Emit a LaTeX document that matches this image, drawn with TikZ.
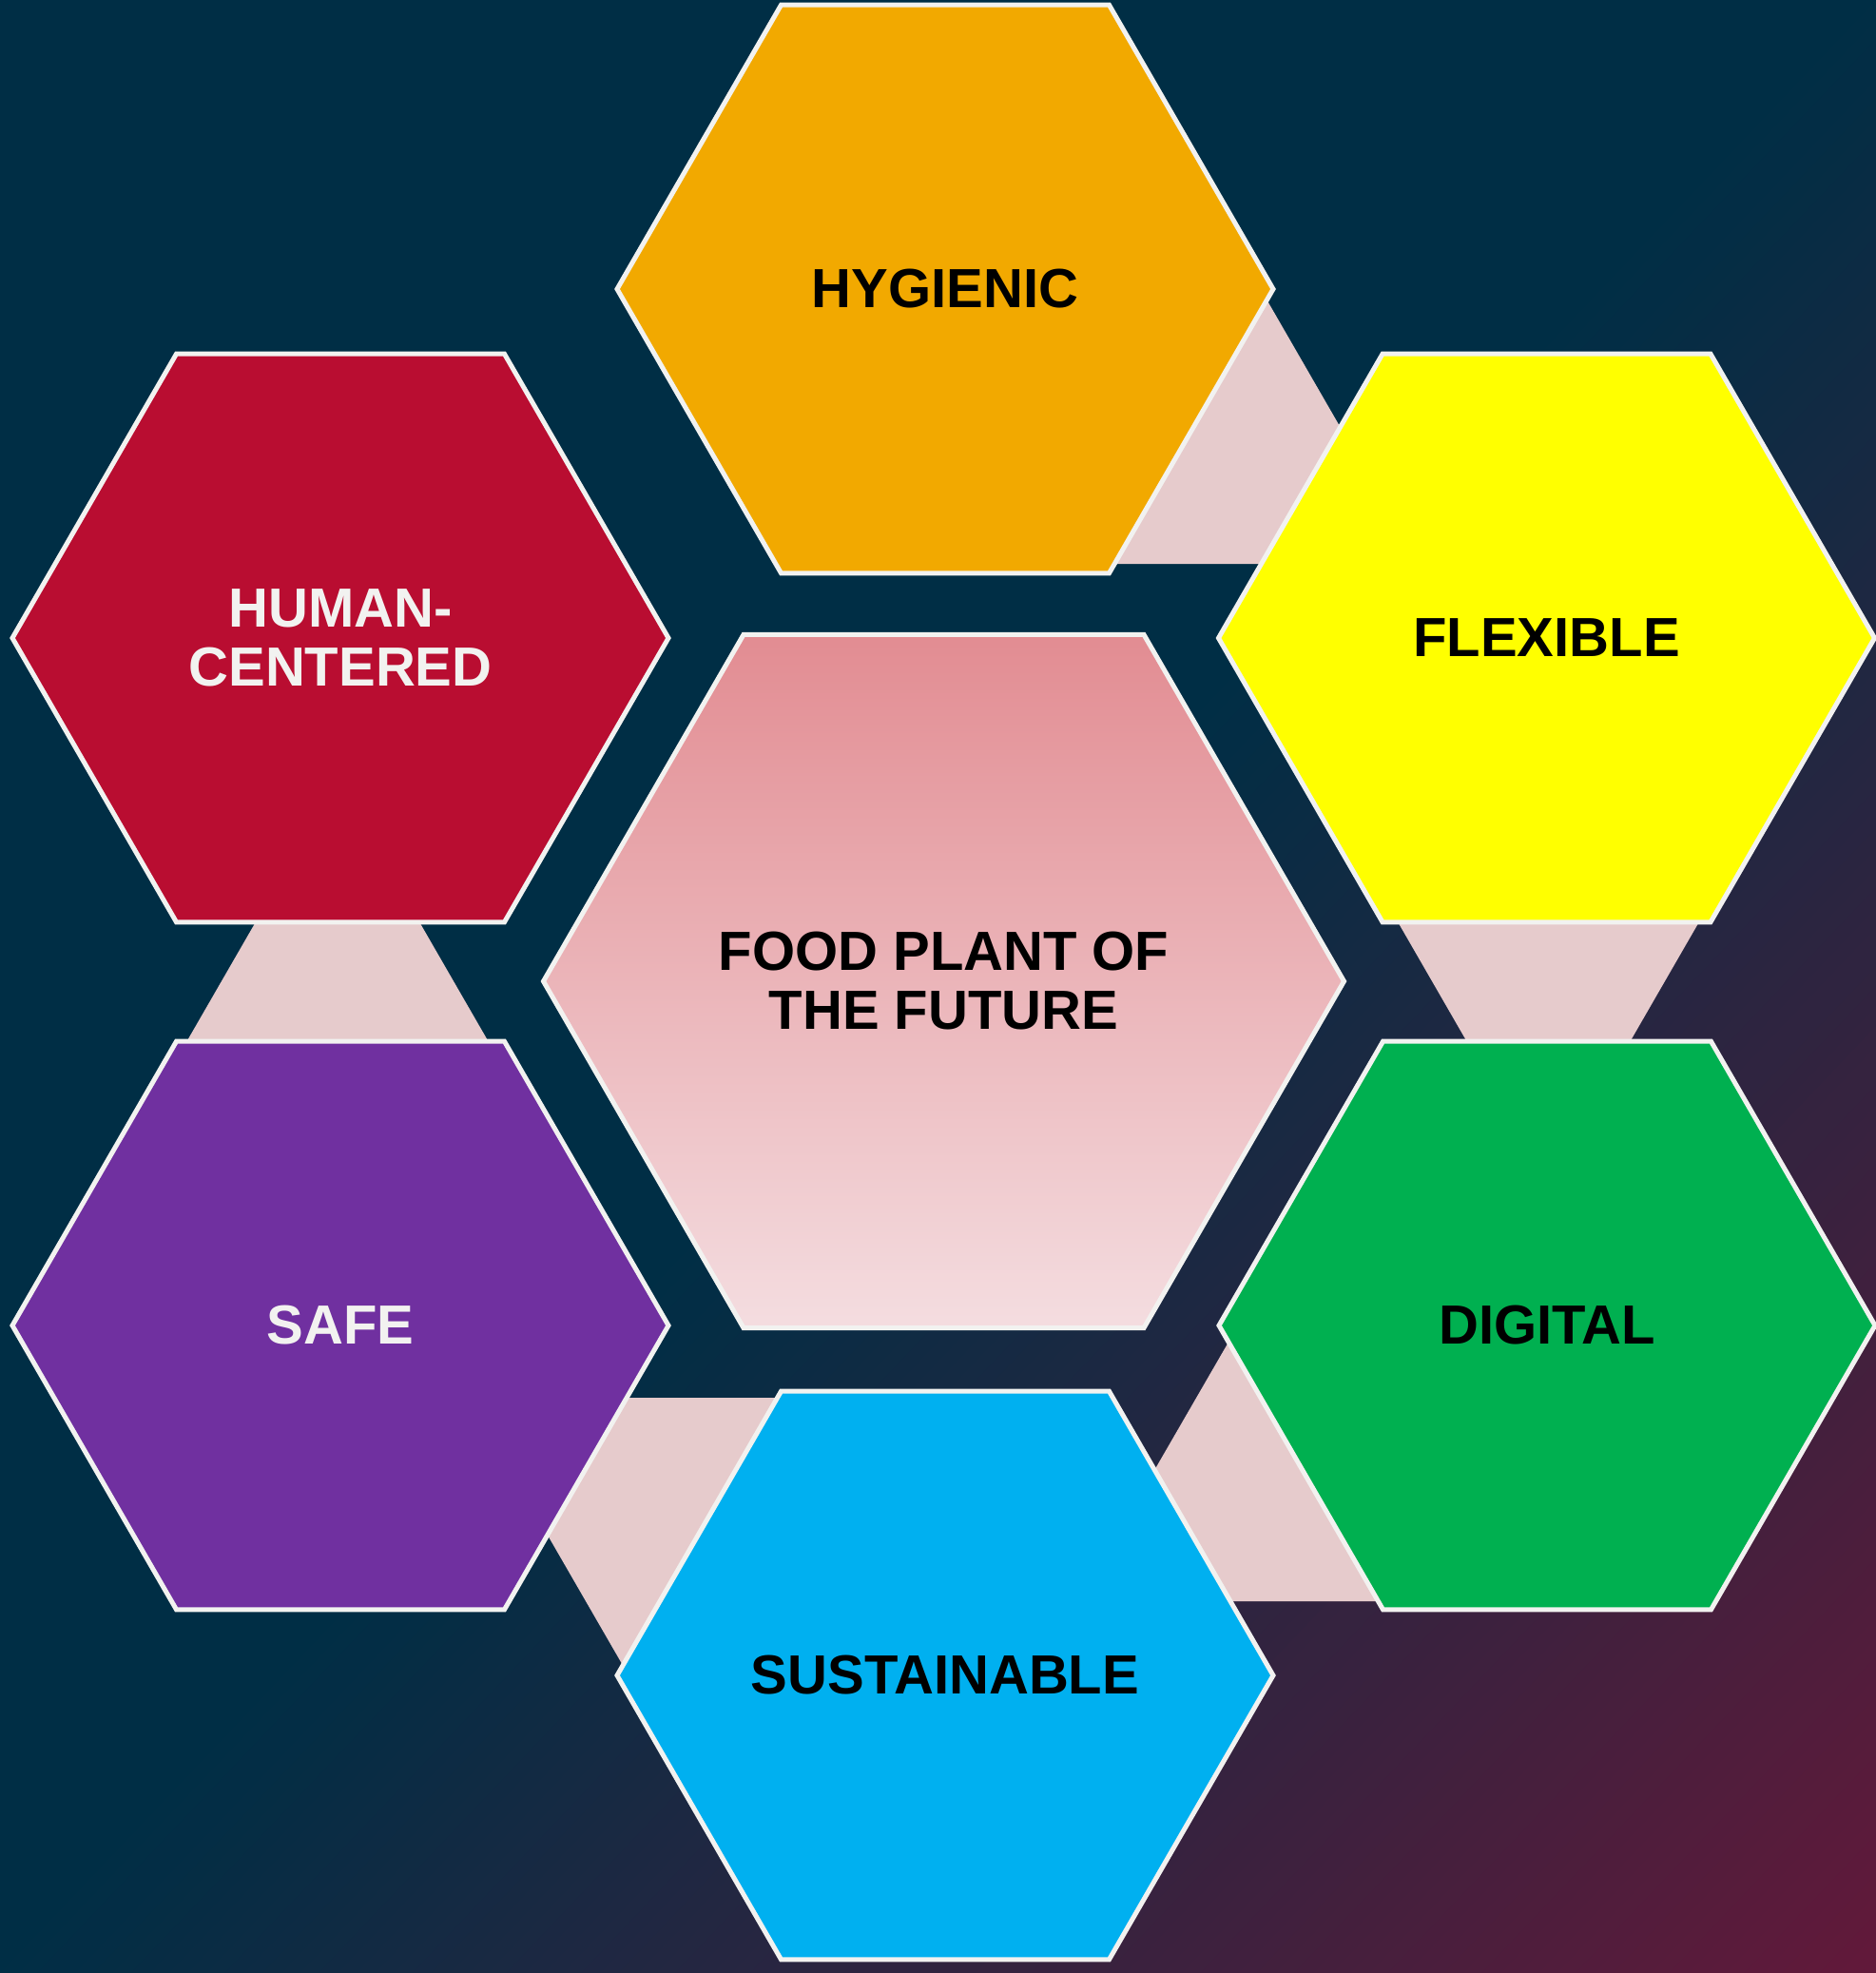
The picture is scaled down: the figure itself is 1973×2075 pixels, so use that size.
\documentclass[tikz,border=0pt]{standalone}
\usepackage{fontspec}
\setmainfont{Liberation Sans}
\definecolor{bgnavy}{RGB}{0,46,69}
\definecolor{bgmaroon}{RGB}{98,25,58}
\definecolor{hexline}{RGB}{242,242,240}
\definecolor{connpink}{RGB}{230,203,204}
\definecolor{hygcol}{RGB}{242,169,0}
\definecolor{humcol}{RGB}{185,13,49}
\definecolor{flexcol}{RGB}{255,255,0}
\definecolor{safecol}{RGB}{112,48,160}
\definecolor{digcol}{RGB}{0,176,80}
\definecolor{suscol}{RGB}{0,176,240}
\definecolor{ctop}{RGB}{226,140,146}
\definecolor{cbot}{RGB}{244,221,224}
\definecolor{lighttext}{RGB}{242,242,240}
\tikzset{
  hexborder/.style={draw=hexline, line width=5pt, line join=miter},
  hexpath/.style n args={3}{insert path={(#1,#2) +(0:#3) -- +(60:#3) -- +(120:#3) -- +(180:#3) -- +(240:#3) -- +(300:#3) -- cycle}},
  conn/.style={fill=connpink},
  lbl/.style={font=\fontsize{58}{62}\selectfont\bfseries, align=center, inner sep=0pt},
}
\begin{document}
\begin{tikzpicture}[x=1pt,y=-1pt]
\useasboundingbox (0,0) rectangle (1973,2075);
% background gradient
\begin{scope}
  \clip (0,0) rectangle (1973,2075);
  \fill[bgnavy] (0,0) rectangle (1973,2075);
  \foreach \k in {0,...,99}{
    \pgfmathsetmacro\sa{1+\k/100}
    \pgfmathsetmacro\sb{1+(\k+1.3)/100}
    \pgfmathsetmacro\mx{\k+0.5}
    \fill[bgmaroon!\mx!bgnavy] (-50,{2075*(\sa+50/1973)}) -- (2023,{2075*(\sa-1-50/1973)}) -- (2023,{2075*(\sb-1-50/1973)}) -- (-50,{2075*(\sb+50/1973)}) -- cycle;
  }
\end{scope}
% connectors (behind)
\fill[conn] (1100,593) -- (1300.4,260) -- (1450.4,520) -- (1400,593) -- cycle;
\fill[conn] (1453,940) -- (1804,940) -- (1694.4,1130) -- (1562.6,1130) -- cycle;
\fill[conn] (1310.2,1380) -- (1183,1600) -- (1250,1684) -- (1500,1684) -- cycle;
\fill[conn] (600,1470) -- (900,1470) -- (671.5,1780) -- (556,1580) -- cycle;
\fill[conn] (286,940) -- (424,940) -- (533.6,1130) -- (176.4,1130) -- cycle;
% outer hexagons
\path[hexborder, fill=hygcol, hexpath={994}{304}{345}];
\path[hexborder, fill=humcol, hexpath={358}{671}{345}];
\path[hexborder, fill=flexcol, hexpath={1626.5}{671}{345}];
\path[hexborder, fill=safecol, hexpath={358}{1394}{345}];
\path[hexborder, fill=digcol, hexpath={1627}{1394}{345}];
\path[hexborder, fill=suscol, hexpath={994}{1762}{345}];
% center hexagon
\shade[hexborder, top color=ctop, bottom color=cbot, hexpath={992.5}{1032}{421}];
% labels
\node[lbl, text=black] (hyg) at (994,304) {HYGIENIC};
\node[lbl, text=lighttext] (hum) at (358,671) {HUMAN-\\CENTERED};
\node[lbl, text=black] (flex) at (1626.5,671) {FLEXIBLE};
\node[lbl, text=lighttext] (safe) at (358,1394) {SAFE};
\node[lbl, text=black] (dig) at (1627,1394) {DIGITAL};
\node[lbl, text=black] (sus) at (994,1762) {SUSTAINABLE};
\node[lbl, text=black] (center) at (992.5,1032) {FOOD PLANT OF\\THE FUTURE};
\end{tikzpicture}
\end{document}
